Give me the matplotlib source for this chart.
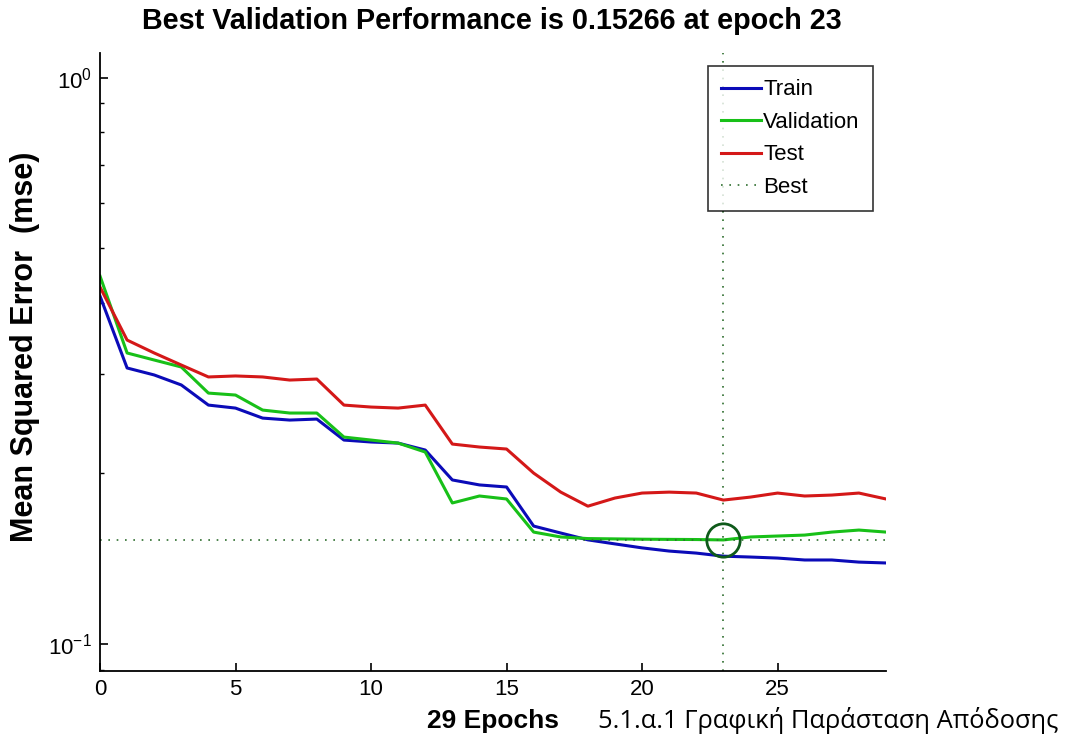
import matplotlib
matplotlib.use("Agg")
import matplotlib.pyplot as plt
import numpy as np

epochs = list(range(30))
train = [0.4114, 0.3071, 0.2985, 0.2866, 0.2641, 0.2609, 0.2505, 0.2485, 0.2495, 0.2291,
         0.2273, 0.2263, 0.2200, 0.1948, 0.1909, 0.1893, 0.1615, 0.1570, 0.1527, 0.1502,
         0.1478, 0.1459, 0.1447, 0.1429, 0.1424, 0.1418, 0.1407, 0.1407, 0.1395, 0.1390]
validation = [0.4463, 0.3264, 0.3172, 0.3083, 0.2773, 0.2751, 0.2588, 0.2557, 0.2557, 0.2319,
              0.2291, 0.2263, 0.2182, 0.1774, 0.1825, 0.1803, 0.1576, 0.1545, 0.1535, 0.1533,
              0.1531, 0.1530, 0.1529, 0.15266, 0.1545, 0.1551, 0.1557, 0.1576, 0.1589, 0.1576]
test = [0.4268, 0.3440, 0.3264, 0.3108, 0.2961, 0.2973, 0.2961, 0.2924, 0.2936, 0.2641,
        0.2620, 0.2609, 0.2641, 0.2254, 0.2227, 0.2209, 0.2003, 0.1854, 0.1751, 0.1810,
        0.1847, 0.1854, 0.1847, 0.1795, 0.1817, 0.1847, 0.1825, 0.1832, 0.1847, 0.1803]
best_epoch = 23
best_perf = 0.15266
x_ticks = [0, 5, 10, 15, 20, 25]

font = "Liberation Sans"
plt.rcParams['font.family'] = font

fig = plt.figure(figsize=(10.73, 7.45), dpi=100)
ax = fig.add_axes([100/1073, 74/745, 786/1073, 618/745])

c_train = "#0b0bb8"
c_val = "#18c018"
c_test = "#d41818"
c_best = "#2e6e2e"

ax.plot(epochs, train, color=c_train, lw=2.2, label="Train")
ax.plot(epochs, validation, color=c_val, lw=2.2, label="Validation")
ax.plot(epochs, test, color=c_test, lw=2.2, label="Test")
ax.axvline(best_epoch, color=c_best, ls=(0, (1, 4)), lw=1.2, label="Best")
ax.axhline(best_perf, color=c_best, ls=(0, (1, 4)), lw=1.2)
ax.plot([best_epoch], [best_perf], 'o', ms=24, mfc='none', mec="#0e5a1a", mew=2)

ax.set_yscale('log')
ax.set_xlim(0, 29)
ax.set_ylim(0.0896, 1.105)
ax.set_xticks(x_ticks)
ax.tick_params(direction='in', which='major', length=6, width=1.2, labelsize=16, pad=6)
ax.tick_params(direction='in', which='minor', length=3, width=1)
ax.spines['top'].set_visible(False)
ax.spines['right'].set_visible(False)
ax.spines['left'].set_linewidth(1.3)
ax.spines['bottom'].set_linewidth(1.3)

fig.text(492/1073, 1 - 21/745, "Best Validation Performance is 0.15266 at epoch 23",
         fontsize=20.7, fontweight='bold', ha='center', va='center')
ax.set_xlabel("29 Epochs", fontsize=19, fontweight='bold', labelpad=6)
fig.text(25/1073, 1 - 347/745, "Mean Squared Error  (mse)", fontsize=22,
         fontweight='bold', rotation=90, ha='center', va='center')

leg = ax.legend(loc='upper right', fontsize=16, frameon=True, fancybox=False,
                edgecolor='black', handlelength=1.8, borderpad=0.6,
                labelspacing=0.52, handletextpad=0.1, borderaxespad=0)
leg.get_frame().set_linewidth(1.2)
leg.set_bbox_to_anchor((873/1073, (745-66)/745), transform=fig.transFigure)

fig.text(598/1073, (745-721)/745, "5.1.α.1 Γραφική Παράσταση Απόδοσης",
         fontsize=18.4, family="Open Sans", va='center', ha='left')

fig.savefig("out.png", dpi=100)
